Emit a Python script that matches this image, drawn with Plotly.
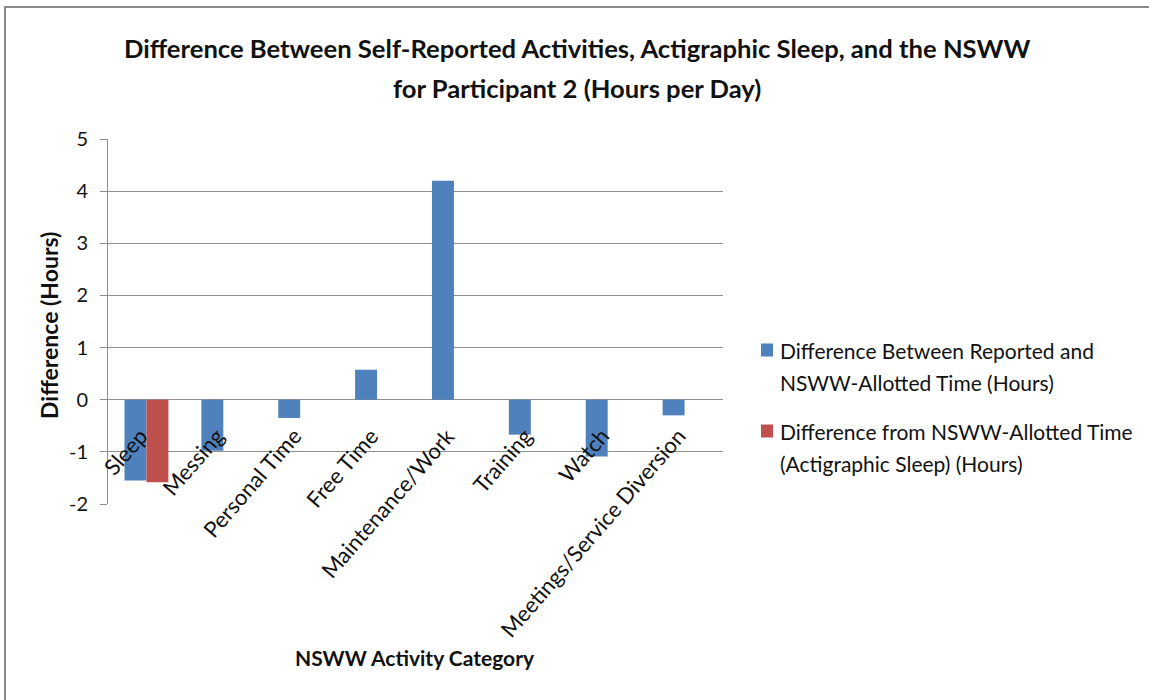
import plotly.graph_objects as go

categories = ["Sleep", "Messing", "Personal Time", "Free Time", "Maintenance/Work",
              "Training", "Watch", "Meetings/Service Diversion"]
reported_diff = [-1.55, -0.98, -0.35, 0.575, 4.2, -0.67, -1.09, -0.30]
actigraphic_diff = [-1.585, None, None, None, None, None, None, None]
series_names = [
    ["Difference Between Reported and", "NSWW-Allotted Time (Hours)"],
    ["Difference from NSWW-Allotted Time", "(Actigraphic Sleep) (Hours)"],
]
series_colors = ["#4F81BD", "#C0504D"]
y_tickvals = [-2, -1, 0, 1, 2, 3, 4, 5]
y_ticktext = ["-2", "-1", "0", "1", "2", "3", "4", "5"]
title_lines = ["Difference Between Self-Reported Activities, Actigraphic Sleep, and the NSWW",
               "for Participant 2 (Hours per Day)"]
x_title = "NSWW Activity Category"
y_title = "Difference (Hours)"

W, H = 1149, 700
L, R, T, B = 108, 723, 139, 504  # plot area in pixels


def px(x):
    return (x - L) / (R - L)


def py(y):
    return (B - y) / (B - T)


FONT = "Lato, 'Open Sans', sans-serif"
GRID = "#8f8f8f"
TXT = "#111111"

fig = go.Figure()
fig.add_trace(go.Bar(x=categories, y=reported_diff, marker_color=series_colors[0],
                     marker_line_width=0, showlegend=False))
fig.add_trace(go.Bar(x=categories, y=actigraphic_diff, marker_color=series_colors[1],
                     marker_line_width=0, showlegend=False))

annotations = []
# category labels (rotated, hanging from zero line)
for c in categories:
    annotations.append(dict(x=c, y=0, xref="x", yref="y", text=c, showarrow=False,
                            textangle=-49, xanchor="right", yanchor="top",
                            xshift=9, yshift=-20,
                            font=dict(family=FONT, size=22, color=TXT)))
# title
for line, yy in zip(title_lines, (48, 88)):
    annotations.append(dict(x=px(577), y=py(yy), xref="paper", yref="paper", text="<b>%s</b>" % line,
                            showarrow=False, xanchor="center", yanchor="middle",
                            font=dict(family=FONT, size=25.6, color=TXT)))
# axis titles
annotations.append(dict(x=px(415), y=py(657), xref="paper", yref="paper", text="<b>%s</b>" % x_title,
                        showarrow=False, xanchor="center", yanchor="middle",
                        font=dict(family=FONT, size=21, color=TXT)))
annotations.append(dict(x=px(49), y=py(326), xref="paper", yref="paper", text="<b>%s</b>" % y_title,
                        showarrow=False, xanchor="center", yanchor="middle", textangle=-90,
                        font=dict(family=FONT, size=23, color=TXT)))

shapes = []
# manual legend
legend_rows = [(350, 382), (431, 463)]
for (lines, color, (y1, y2)) in zip(series_names, series_colors, legend_rows):
    shapes.append(dict(type="rect", xref="paper", yref="paper",
                       x0=px(761), x1=px(773), y0=py(y1 - 6.5), y1=py(y1 + 6.5),
                       fillcolor=color, line_width=0))
    for txt, yy in zip(lines, (y1, y2)):
        annotations.append(dict(x=px(778), y=py(yy), xref="paper", yref="paper", text=txt,
                                showarrow=False, xanchor="left", yanchor="middle",
                                font=dict(family=FONT, size=21, color=TXT)))

# chart border (top and left edges visible)
shapes.append(dict(type="line", xref="paper", yref="paper", x0=px(4), x1=px(1152), y0=py(7), y1=py(7),
                   line=dict(color="#8a8a8a", width=2)))
shapes.append(dict(type="line", xref="paper", yref="paper", x0=px(5), x1=px(5), y0=py(6), y1=py(705),
                   line=dict(color="#8a8a8a", width=2)))

fig.update_layout(
    width=W, height=H,
    margin=dict(l=L, r=W - R, t=T, b=H - B, pad=0),
    paper_bgcolor="white", plot_bgcolor="white",
    barmode="group", bargap=1.5 / 3.5, bargroupgap=0,
    annotations=annotations, shapes=shapes,
    showlegend=False,
    xaxis=dict(range=[-0.5, 7.5], showgrid=False, showticklabels=False, showline=False,
               ticks="", zeroline=False, fixedrange=True),
    yaxis=dict(range=[-2, 5], tickmode="array", tickvals=y_tickvals, ticktext=y_ticktext,
               showgrid=True, gridcolor=GRID, gridwidth=1,
               zeroline=True, zerolinecolor=GRID, zerolinewidth=1,
               showline=True, linecolor=GRID, linewidth=1,
               ticks="outside", ticklen=7, tickcolor=GRID, ticklabelstandoff=8,
               tickfont=dict(family=FONT, size=20, color=TXT)),
)

fig.write_html("out.html", config={"displayModeBar": False},
               post_script="document.body.style.margin='0';document.body.style.overflow='hidden';")
